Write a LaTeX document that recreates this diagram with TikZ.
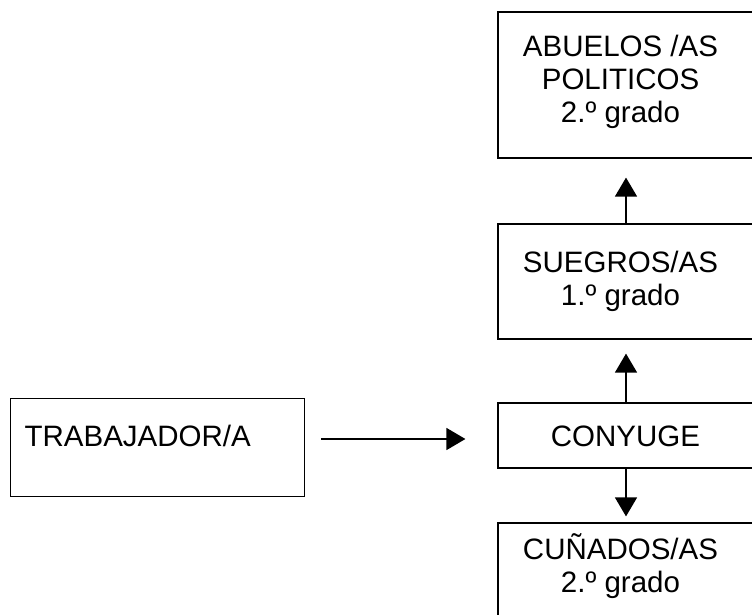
\documentclass[tikz,border=0pt]{standalone}
\usepackage{fontspec}
\setmainfont{Liberation Sans}
\usepackage{tikz}
\usetikzlibrary{
    arrows.meta,
    calc,
    positioning
}
\tikzset{caja/.style={draw=black, line width=1.2pt, inner sep=0pt, minimum width=256pt}}
\tikzset{texto/.style={align=center, inner sep=0pt, xshift=-5.5pt, font=\fontsize{29.5}{33}\selectfont}}
\tikzset{flecha/.style={line width=1.4pt, -{Triangle[length=19pt, width=22pt]}}}

\begin{document}
\begin{tikzpicture}[x=1pt, y=-1pt]
                                \useasboundingbox (0, 0) rectangle (752, 615);
                                \clip (0, 0) rectangle (752, 615);
                                \node[caja, minimum height=146pt, label={[texto, yshift=3pt]center:{ABUELOS /AS\\POLITICOS\\2.º grado}}] (abuelos) at (626, 85) {};
                                \node[caja, minimum height=115pt, label={[texto]center:{SUEGROS/AS\\1.º grado}}] (suegros) at (626, 281.5) {};
                                \node[caja, minimum height=65pt, label={[texto, xshift=5pt, yshift=-1pt]center:CONYUGE}] (conyuge) at (626, 435.5) {};
                                \node[caja, minimum height=110pt, label={[texto, yshift=12pt]center:{CUÑADOS/AS\\2.º grado}}] (cunados) at (626, 578) {};
                                \node[caja, anchor=north west, minimum width=294pt, text width=266pt, align=left, inner xsep=14pt, text height=48pt, text depth=50pt, font=\fontsize{29.5}{33}\selectfont] (trab) at (10, 398) {TRABAJADOR/A};
                                \coordinate (nivel) at (0, 439);
                                \draw[flecha, shorten >=19pt] (suegros.north) -- (abuelos.south);
                                \draw[flecha, shorten >=14pt] (conyuge.north) -- (suegros.south);
                                \draw[flecha, shorten >=6pt] (conyuge.south) -- (cunados.north);
                                \draw[flecha, shorten <=16pt, shorten >=32pt] (trab.east |- nivel) -- (conyuge.west |- nivel);
                            \end{tikzpicture}
\end{document}
